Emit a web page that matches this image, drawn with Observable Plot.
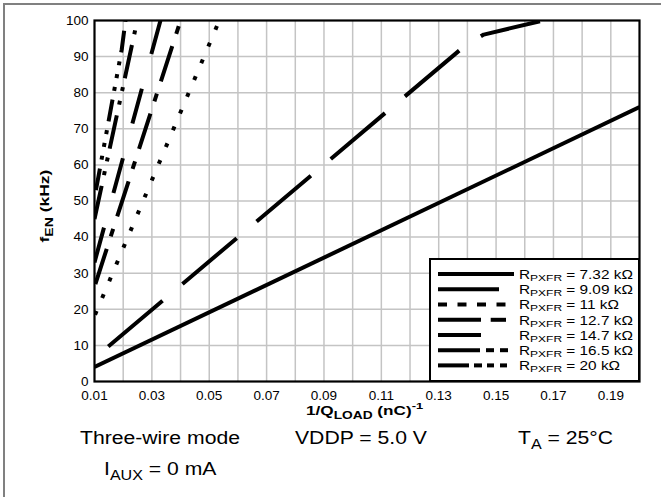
<!DOCTYPE html>
<html><head><meta charset="utf-8">
<script src="https://cdn.jsdelivr.net/npm/d3@7"></script>
<script src="https://cdn.jsdelivr.net/npm/@observablehq/plot@0.6"></script>
<style>
body{margin:0;background:#fff;}
#wrap{position:relative;width:661px;height:497px;overflow:hidden;background:#fff;}
#border{position:absolute;left:3px;top:3px;width:700px;height:600px;border-top:2px solid #808080;border-left:2px solid #808080;}
#chart{position:absolute;left:0;top:0;}
</style></head><body>
<div id="wrap"><div id="chart"></div><div id="border"></div></div>
<script>
// ---- data ----
const seriesValues = ["7.32", "9.09", "11", "12.7", "14.7", "16.5", "20"];
const q732 = [0.010, 0.200];
const f732 = [4, 76];
const q909 = [0.0148, 0.139, 0.1457, 0.1653];
const f909 = [9.7, 92.9, 96.1, 99.8];
const q11 = [0.0102, 0.0535];
const f11 = [18.5, 100];
const q127 = [0.0103, 0.0400];
const f127 = [27, 100];
const q147 = [0.0100, 0.0330];
const f147 = [33, 100];
const q165 = [0.0100, 0.0249];
const f165 = [45, 100];
const q20 = [0.0105, 0.0195, 0.0208];
const f20 = [53, 92, 100];
const xTickValues = [0.01, 0.03, 0.05, 0.07, 0.09, 0.11, 0.13, 0.15, 0.17, 0.19];
const xGridValues = [0.02,0.03,0.04,0.05,0.06,0.07,0.08,0.09,0.10,0.11,0.12,0.13,0.14,0.15,0.16,0.17,0.18,0.19];
const yTickValues = [0, 10, 20, 30, 40, 50, 60, 70, 80, 90, 100];
const yGridValues = [10, 20, 30, 40, 50, 60, 70, 80, 90];
const notes = ["Three-wire mode", "VDDP = 5.0 V", "T_A = 25°C", "I_AUX = 0 mA"];

const seriesQ = [q732, q909, q11, q127, q147, q165, q20];
const seriesF = [f732, f909, f11, f127, f147, f165, f20];
const dashes = [null, "71,26", "4,14.2", "37,13,8,13", "36,36", "34,11,4,10,4,9", "22,9,4,9,4,9,4,9"];

const rows = seriesValues.map((r, i) => seriesQ[i].map((q, j) => ({series: r, q, f: seriesF[i][j]})));

const W = 661, H = 497, ML = 94, MR = 22, MT = 20, MB = 116;

const plot = Plot.plot({
  width: W, height: H,
  marginLeft: ML, marginRight: MR, marginTop: MT, marginBottom: MB,
  style: {fontFamily: "'Liberation Sans', Arial, sans-serif", fontSize: "13px", color: "#000", background: "transparent"},
  x: {domain: [0.01, 0.20], axis: null},
  y: {domain: [0, 100], axis: null},
  marks: [
    Plot.gridX(xGridValues, {stroke: "#c4c4c4", strokeOpacity: 1, strokeWidth: 1.5}),
    Plot.gridY(yGridValues, {stroke: "#c4c4c4", strokeOpacity: 1, strokeWidth: 1.5}),
    ...rows.map((d, i) => Plot.line(d, {
      x: "q", y: "f", stroke: "#000", strokeWidth: 4,
      strokeDasharray: dashes[i], strokeLinecap: "butt", clip: true
    })),
    Plot.frame({stroke: "#000", strokeWidth: 2.2}),
    Plot.axisX(xTickValues, {tickSize: 0, tickPadding: 9, tickFormat: d3.format(".2f"), fontSize: 13.5, label: null}),
    Plot.axisY(yTickValues, {tickSize: 0, tickPadding: 6, fontSize: 13.5, label: null})
  ]
});
document.getElementById("chart").appendChild(plot);

// ---- legend, axis titles and notes ----
const svg = d3.select(plot);
const g = svg.append("g").attr("font-family", "'Liberation Sans', Arial, sans-serif").attr("fill", "#000")
  .attr("text-anchor", "start");

function makeText(parent, parts, size, weight) {
  const t = parent.append("text").attr("x", 0).attr("y", 0).attr("font-size", size)
    .attr("font-weight", weight || "normal").attr("text-anchor", "start");
  parts.forEach(([s, f, dy]) => {
    t.append("tspan").attr("font-size", size * f).attr("dy", dy).text(s);
  });
  return t;
}
function subParts(text, subF, drop) {
  const [main, rest] = text.split("_");
  if (rest === undefined) return [[main, 1, 0]];
  const m = rest.match(/^(\S+)(.*)$/);
  return [[main, 1, 0], [m[1], subF, drop], [m[2], 1, -drop]];
}

// x axis title
{
  const gx = g.append("g");
  const t = makeText(gx, [["1/Q", 1, 0], ["LOAD", 0.8, 3.5], [" (nC)", 1, -3.5], ["-1", 0.75, -6]], 13, "bold");
  const w = t.node().getBBox().width;
  const s = 118 / w;
  gx.attr("transform", `translate(${365 - 59},415) scale(${s},1)`);
}
// y axis title
{
  const gy = g.append("g");
  const t = makeText(gy, [["f", 1, 0], ["EN", 0.8, 3.5], [" (kHz)", 1, -3.5]], 13, "bold");
  const w = t.node().getBBox().width;
  const s = 73 / w;
  gy.attr("transform", `translate(49,${206 + 36.5}) rotate(-90) scale(${s},1)`);
}

// legend box
const lx0 = 430, ly0 = 259;
g.append("rect").attr("x", lx0).attr("y", ly0).attr("width", 639 - lx0).attr("height", 381 - ly0)
  .attr("fill", "#fff").attr("stroke", "#000").attr("stroke-width", 2);
const legendSegs = [
  [[438, 514]],
  [[438, 499]],
  [[438, 447], [457.5, 466.5], [477, 486], [496.5, 505.5]],
  [[438, 481], [490.7, 506]],
  [[438, 481]],
  [[438, 480], [486, 494], [500, 508]],
  [[438, 469], [474, 482], [487, 494], [500, 507]]
];
const rowY = [274, 289.3, 304.5, 319.8, 335, 350.2, 365.4];
let legendScale = null;
seriesValues.forEach((r, i) => {
  legendSegs[i].forEach(([a, b]) => {
    g.append("line").attr("x1", a).attr("x2", b).attr("y1", rowY[i]).attr("y2", rowY[i])
      .attr("stroke", "#000").attr("stroke-width", 4);
  });
  const gl = g.append("g");
  const t = makeText(gl, [["R", 1, 0], ["PXFR", 0.78, 2], [" = " + r + " kΩ", 1, -2]], 12.5);
  if (legendScale === null) legendScale = 114 / t.node().getBBox().width;
  gl.attr("transform", `translate(519,${rowY[i] + 4.8}) scale(${legendScale},1)`);
});

// notes
let noteScale = null;
const notePos = [[80, 444], [295, 444], [518, 444], [104, 475]];
notes.forEach((n, i) => {
  const gn = g.append("g");
  const t = makeText(gn, subParts(n, 0.76, 4.5), 19);
  if (noteScale === null) noteScale = 160 / t.node().getBBox().width;
  gn.attr("transform", `translate(${notePos[i][0]},${notePos[i][1]}) scale(${noteScale},1)`);
});
</script>
</body></html>
